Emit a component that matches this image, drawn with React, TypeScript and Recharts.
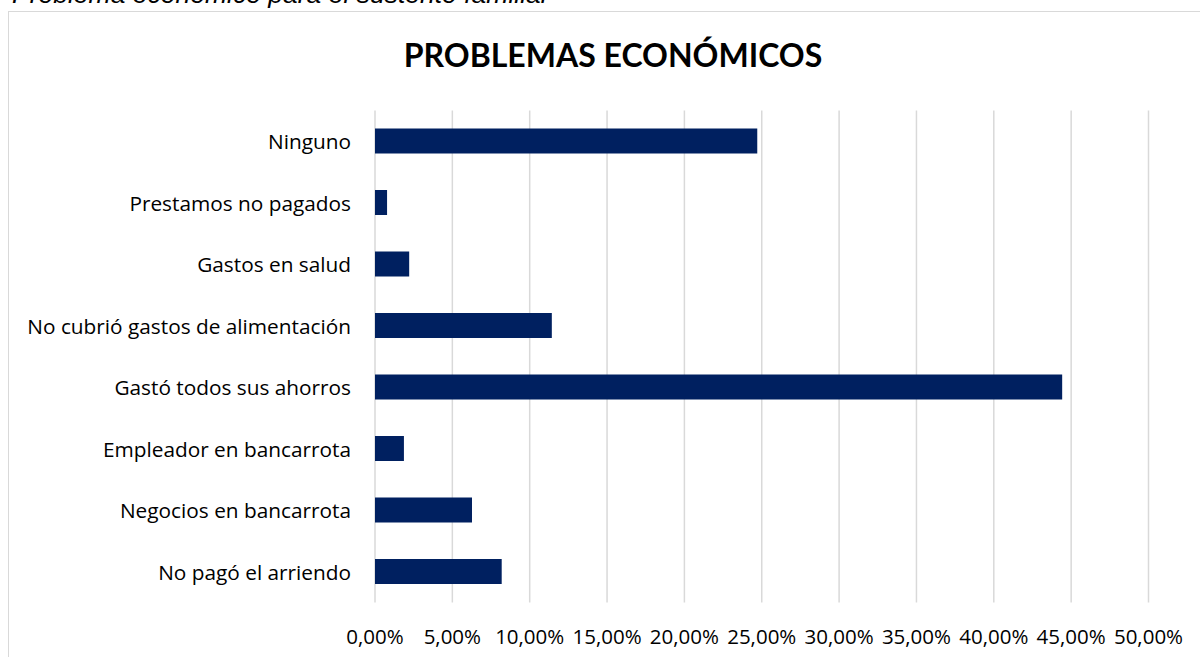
import React from "react";
import { BarChart, Bar, XAxis, YAxis, CartesianGrid } from "recharts";

const categories = [
  "Ninguno",
  "Prestamos no pagados",
  "Gastos en salud",
  "No cubrió gastos de alimentación",
  "Gastó todos sus ahorros",
  "Empleador en bancarrota",
  "Negocios en bancarrota",
  "No pagó el arriendo",
];
const values = [0.2471, 0.0078, 0.0221, 0.1143, 0.4442, 0.0187, 0.0627, 0.0819];
const xTicks = [0, 0.05, 0.1, 0.15, 0.2, 0.25, 0.3, 0.35, 0.4, 0.45, 0.5];

const data = categories.map((c, i) => ({ name: c, value: values[i] }));

const FONT = "'Open Sans', sans-serif";
const TITLE_FONT = "Lato, 'Open Sans', sans-serif";

const fmt = (v: number) => (v * 100).toFixed(2).replace(".", ",") + "%";

const YTick = (props: any) => {
  const { x, y, payload } = props;
  return (
    <text x={x - 16} y={y} dy={8} textAnchor="end" fill="#000" fontSize={20.8} fontFamily={FONT}>
      {payload.value}
    </text>
  );
};

const XTick = (props: any) => {
  const { x, y, payload } = props;
  return (
    <text x={x} y={y} dy={33} textAnchor="middle" fill="#000" fontSize={20.5} fontFamily={FONT}>
      {fmt(payload.value)}
    </text>
  );
};

export default function App() {
  return (
    <div style={{ position: "absolute", left: 0, top: 0, width: 1200, height: 657, overflow: "hidden", background: "#fff" }}>
      <div
        style={{
          position: "absolute",
          left: 12,
          top: -21,
          fontFamily: "'Liberation Sans', Arial, sans-serif",
          fontStyle: "italic",
          fontSize: 26.5,
          color: "#000",
          whiteSpace: "nowrap",
        }}
      >
        Problema económico para el sustento familiar
      </div>
      <div
        style={{
          position: "absolute",
          left: 8,
          top: 11,
          width: 1200,
          height: 660,
          border: "1.5px solid #d9d9d9",
          boxSizing: "border-box",
        }}
      >
        <BarChart
          width={1200}
          height={645}
          data={data}
          layout="vertical"
          margin={{ top: 98.5, right: 60.5, bottom: 14.5, left: 0 }}
          barSize={25}
        >
          <text x={604} y={55} textAnchor="middle" fontSize={32} fontWeight={700} fontFamily={TITLE_FONT} fill="#000">
            PROBLEMAS ECONÓMICOS
          </text>
          <CartesianGrid horizontal={false} vertical={true} stroke="#d9d9d9" strokeWidth={1.5} />
          <XAxis
            type="number"
            domain={[0, 0.5]}
            ticks={xTicks}
            axisLine={false}
            tickLine={false}
            height={40}
            tick={<XTick />}
            interval={0}
          />
          <YAxis
            type="category"
            dataKey="name"
            width={366}
            axisLine={false}
            tickLine={false}
            tick={<YTick />}
            interval={0}
          />
          <Bar dataKey="value" fill="#002060" isAnimationActive={false} />
        </BarChart>
      </div>
    </div>
  );
}
